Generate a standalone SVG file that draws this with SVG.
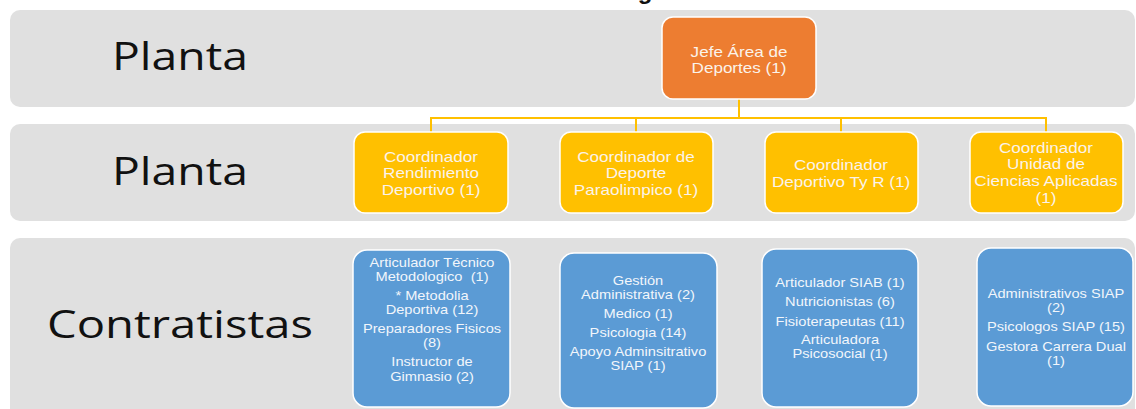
<svg xmlns="http://www.w3.org/2000/svg" width="1136" height="409" viewBox="0 0 1136 409">
<style>
.band{fill:#e0e0e0}
.lbl{font-family:"Open Sans","Liberation Sans",sans-serif;font-size:38px;fill:#111}
.box{stroke:#ffffff;stroke-width:1.5}
.org{fill:#ED7D31}
.yel{fill:#FFC000}
.blu{fill:#5B9BD5}
.t1{font-family:"Liberation Sans",Arial,sans-serif;font-size:14px;fill:#fbf3ea;text-anchor:middle}
.t2{font-family:"Liberation Sans",Arial,sans-serif;font-size:12px;fill:#f2f6fb;text-anchor:middle}
.conn{stroke:#FFC000;stroke-width:2;fill:none}
</style>
<rect width="1136" height="409" fill="#ffffff"/>
<text x="645" y="-1" font-family="Liberation Sans, sans-serif" font-size="24" font-weight="bold" fill="#111" text-anchor="middle">g</text>
<g id="bands">
<rect class="band" x="10" y="10" width="1125" height="97" rx="10"/>
<rect class="band" x="10" y="124" width="1125" height="97" rx="10"/>
<rect class="band" x="10" y="238" width="1125" height="190" rx="10"/>
<text class="lbl" x="112" y="70" textLength="136" lengthAdjust="spacingAndGlyphs">Planta</text>
<text class="lbl" x="112" y="185" textLength="136" lengthAdjust="spacingAndGlyphs">Planta</text>
<text class="lbl" x="47" y="338" textLength="266" lengthAdjust="spacingAndGlyphs">Contratistas</text>
</g>
<g id="connectors">
<path class="conn" d="M739 99 V118 M431 118 H1046 M431 117 V133 M636 117 V133 M841 117 V133 M1046 117 V133"/>
</g>
<g id="jefe">
<rect class="box org" x="662" y="17" width="154" height="82" rx="11"/>
<g transform="translate(739 0) scale(1.22 1)">
<text class="t1" x="0" y="57">Jefe Área de</text>
<text class="t1" x="0" y="73">Deportes (1)</text>
</g>
</g>
<g id="coord1">
<rect class="box yel" x="354" y="132" width="154" height="81" rx="11"/>
<g transform="translate(431 0) scale(1.22 1)">
<text class="t1" x="0" y="162">Coordinador</text>
<text class="t1" x="0" y="178.5">Rendimiento</text>
<text class="t1" x="0" y="195">Deportivo (1)</text>
</g>
</g>
<g id="coord2">
<rect class="box yel" x="560" y="132" width="153" height="81" rx="11"/>
<g transform="translate(636 0) scale(1.22 1)">
<text class="t1" x="0" y="162">Coordinador de</text>
<text class="t1" x="0" y="178.5">Deporte</text>
<text class="t1" x="0" y="195">Paraolimpico (1)</text>
</g>
</g>
<g id="coord3">
<rect class="box yel" x="765" y="132" width="153" height="81" rx="11"/>
<g transform="translate(841 0) scale(1.22 1)">
<text class="t1" x="0" y="170">Coordinador</text>
<text class="t1" x="0" y="187">Deportivo Ty R (1)</text>
</g>
</g>
<g id="coord4">
<rect class="box yel" x="970" y="132" width="153" height="81" rx="11"/>
<g transform="translate(1046 0) scale(1.22 1)">
<text class="t1" x="0" y="153">Coordinador</text>
<text class="t1" x="0" y="169.5">Unidad de</text>
<text class="t1" x="0" y="186">Ciencias Aplicadas</text>
<text class="t1" x="0" y="203">(1)</text>
</g>
</g>
<g id="contr1">
<rect class="box blu" x="353" y="250" width="157" height="157" rx="14"/>
<g transform="translate(432 0) scale(1.22 1)">
<text class="t2" x="0" y="267">Articulador Técnico</text>
<text class="t2" x="0" y="281">Metodologico&#160; (1)</text>
<text class="t2" x="0" y="300">* Metodolia</text>
<text class="t2" x="0" y="314">Deportiva (12)</text>
<text class="t2" x="0" y="333">Preparadores Fisicos</text>
<text class="t2" x="0" y="347">(8)</text>
<text class="t2" x="0" y="366">Instructor de</text>
<text class="t2" x="0" y="381">Gimnasio (2)</text>
</g>
</g>
<g id="contr2">
<rect class="box blu" x="560" y="253" width="157" height="155" rx="14"/>
<g transform="translate(638 0) scale(1.22 1)">
<text class="t2" x="0" y="285">Gestión</text>
<text class="t2" x="0" y="299">Administrativa (2)</text>
<text class="t2" x="0" y="318">Medico (1)</text>
<text class="t2" x="0" y="337">Psicologia (14)</text>
<text class="t2" x="0" y="356">Apoyo Adminsitrativo</text>
<text class="t2" x="0" y="370">SIAP (1)</text>
</g>
</g>
<g id="contr3">
<rect class="box blu" x="762" y="249" width="156" height="158" rx="14"/>
<g transform="translate(840 0) scale(1.22 1)">
<text class="t2" x="0" y="287">Articulador SIAB (1)</text>
<text class="t2" x="0" y="306">Nutricionistas (6)</text>
<text class="t2" x="0" y="326">Fisioterapeutas (11)</text>
<text class="t2" x="0" y="344">Articuladora</text>
<text class="t2" x="0" y="358">Psicosocial (1)</text>
</g>
</g>
<g id="contr4">
<rect class="box blu" x="977" y="248" width="156" height="158" rx="14"/>
<g transform="translate(1056 0) scale(1.22 1)">
<text class="t2" x="0" y="298">Administrativos SIAP</text>
<text class="t2" x="0" y="312">(2)</text>
<text class="t2" x="0" y="331">Psicologos SIAP (15)</text>
<text class="t2" x="0" y="351">Gestora Carrera Dual</text>
<text class="t2" x="0" y="365">(1)</text>
</g>
</g>
</svg>
